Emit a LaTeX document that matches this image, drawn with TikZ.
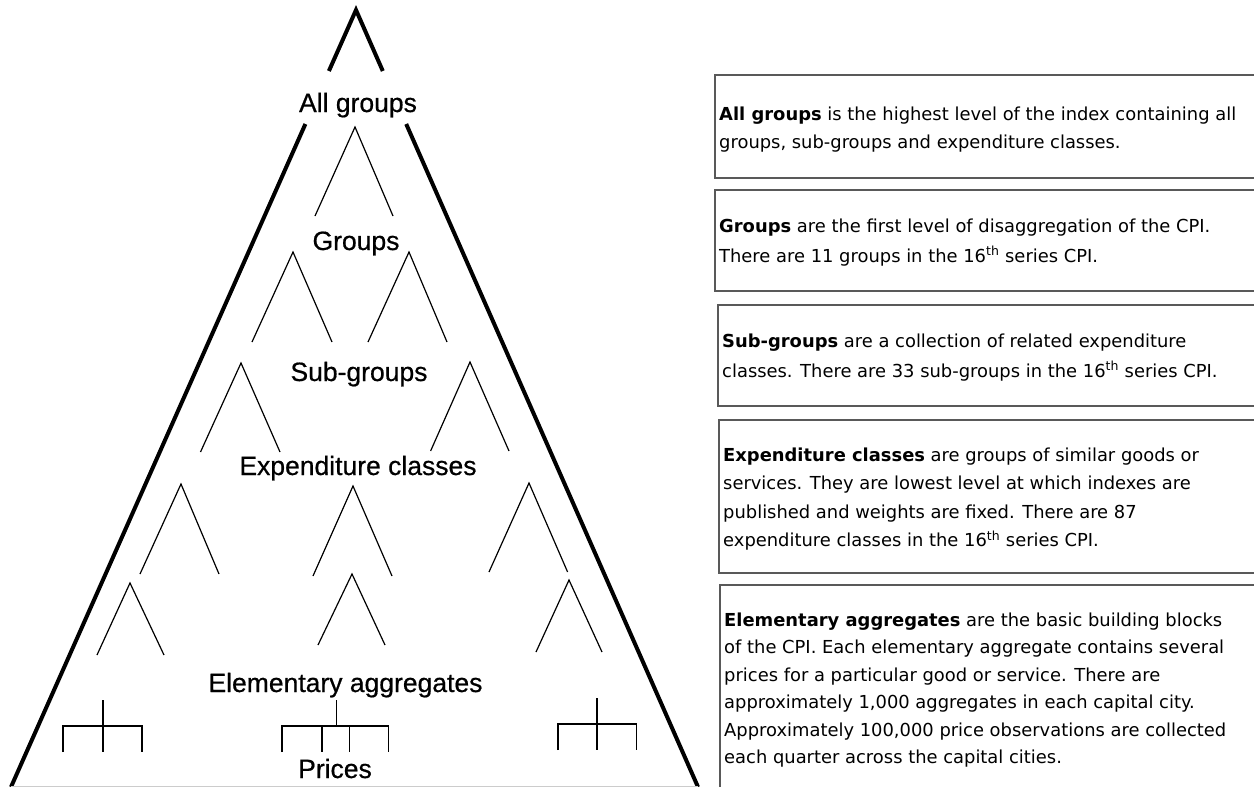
\documentclass[tikz,border=0pt]{standalone}
\usepackage{fontspec}
\setmainfont{Liberation Sans}
\newfontfamily\bodyfont{DejaVu Sans}
\newfontfamily\lvlfont[FakeBold=0.6]{Liberation Sans}
\tikzset{
  outer/.style={line width=4pt},
  inner/.style={line width=1.2pt},
  lvl/.style={font=\lvlfont\fontsize{26.5}{30}\selectfont, inner sep=0pt, anchor=base},
  descbox/.style={draw=black!65, line width=1.3pt},
  desctext/.style={inner sep=0pt, anchor=base west},
}
\newcommand{\descpar}[2]{\begin{minipage}[t]{530pt}\bodyfont\fontsize{17.9}{#1}\selectfont\raggedright #2\end{minipage}}
\begin{document}
\begin{tikzpicture}[x=1pt,y=-1pt]
\useasboundingbox (0,0) rectangle (1254,787);
\clip (0,0) rectangle (1254,787);
% outer triangle
\draw[outer] (328.9,71) -- (356,10) -- (382.8,71);
\draw[outer] (305.4,124) -- (11,787);
\draw[outer] (406.2,124) -- (698,787);
\draw[black!20, line width=1pt] (11,786) -- (698,786);
% inner branches
\foreach \ax/\ay/\lx/\rx/\fy in {
  355/127/315/393/216,
  293/252/252/332/342,
  409/252/368/447/342,
  241/363/200.5/280/452,
  470/362/430.6/509/451,
  181/484/140/219/574,
  353/486/313/392/576,
  529/483/489/567.6/572,
  130/583/97/164/655,
  352/574/318/385/645,
  569/580/536/602/652}
  \draw[inner] (\lx,\fy) -- (\ax,\ay) -- (\rx,\fy);
% bottom trees
\draw[inner] (103,700) -- (103,752);
\draw[inner] (63,752) -- (63,726) -- (142,726) -- (142,752);
\draw[inner] (336.6,700) -- (336.6,726);
\draw[inner] (282,752) -- (282,726) -- (388.5,726) -- (388.5,752);
\draw[inner] (322,726) -- (322,752);
\draw[inner] (349.6,726) -- (349.6,752);
\draw[inner] (597,698) -- (597,750);
\draw[inner] (558,750) -- (558,724) -- (636.5,724) -- (636.5,750);
% level labels
\node[lvl] (lall) at (358,112) {All groups};
\node[lvl] (lgrp) at (356,250) {Groups};
\node[lvl] (lsub) at (359,381) {Sub-groups};
\node[lvl] (lexp) at (358,475) {Expenditure classes};
\node[lvl] (lele) at (345.5,692) {Elementary aggregates};
\node[lvl] (lpri) at (335,778) {Prices};
% description boxes
\draw[descbox] (1262,75) -- (715,75) -- (715,178) -- (1262,178);
\draw[descbox] (1262,190) -- (715,190) -- (715,291) -- (1262,291);
\draw[descbox] (1262,305) -- (718,305) -- (718,406) -- (1262,406);
\draw[descbox] (1262,420) -- (719,420) -- (719,573) -- (1262,573);
\draw[descbox] (1262,585) -- (720,585) -- (720,800);
\node[desctext] (d1) at (719,120) {\descpar{28}{\textbf{All groups} is the highest level of the index containing all\\groups, sub-groups and expenditure classes.}};
\node[desctext] (d2) at (719,232) {\descpar{30}{\textbf{Groups} are the first level of disaggregation of the CPI.\\There are 11 groups in the 16\textsuperscript{th} series CPI.}};
\node[desctext] (d3) at (722,347) {\descpar{30}{\textbf{Sub-groups} are a collection of related expenditure\\classes. There are 33 sub-groups in the 16\textsuperscript{th} series CPI.}};
\node[desctext] (d4) at (723,461) {\descpar{28.6}{\textbf{Expenditure classes} are groups of similar goods or\\services. They are lowest level at which indexes are\\published and weights are fixed. There are 87\\expenditure classes in the 16\textsuperscript{th} series CPI.}};
\node[desctext] (d5) at (724,626) {\descpar{27.5}{\textbf{Elementary aggregates} are the basic building blocks\\of the CPI. Each elementary aggregate contains several\\prices for a particular good or service. There are\\approximately 1,000 aggregates in each capital city.\\Approximately 100,000 price observations are collected\\each quarter across the capital cities.}};
\end{tikzpicture}
\end{document}
